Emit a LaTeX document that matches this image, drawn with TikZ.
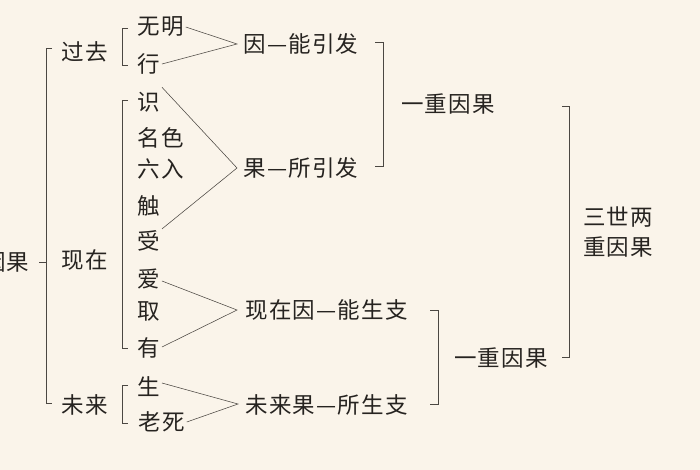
\documentclass[tikz,border=0pt]{standalone}
\usepackage{fontspec}
\newfontfamily\cjk[LetterSpace=5]{Noto Sans CJK SC}
\definecolor{bg}{RGB}{250,244,234}
\definecolor{ink}{RGB}{38,35,32}
\definecolor{rule}{RGB}{75,71,66}
\tikzset{
  lbl/.style={font=\cjk\fontsize{22.5}{27}\selectfont, text=ink, inner sep=1.5pt},
  conn/.style={draw=rule, line width=0.55pt},
  brk/.style={draw=rule, line width=0.5pt},
}
\begin{document}
\begin{tikzpicture}[x=1pt,y=-1pt]
\fill[bg] (0,0) rectangle (700,470);
\useasboundingbox (0,0) rectangle (700,470);
% left column
\node[lbl, anchor=east] (yinguo) at (31,262) {因果};
\node[lbl] (guoqu) at (85,52) {过去};
\node[lbl] (xianzai) at (85,260) {现在};
\node[lbl] (weilai) at (85,405) {未来};
% twelve links
\node[lbl] (wuming) at (161,27) {无明};
\node[lbl] (xing) at (149,64) {行};
\node[lbl] (shi) at (149,102) {识};
\node[lbl] (mingse) at (161,138) {名色};
\node[lbl] (liuru) at (161,169) {六入};
\node[lbl] (chu) at (149,206) {触};
\node[lbl] (shou) at (149,241) {受};
\node[lbl] (ai) at (149,279) {爱};
\node[lbl] (qu) at (149,311) {取};
\node[lbl] (you) at (149,348) {有};
\node[lbl] (sheng) at (149,387) {生};
\node[lbl] (laosi) at (162,422) {老死};
% apex coordinates
\coordinate (a1) at (237,44);
\coordinate (a2) at (237,168);
\coordinate (a3) at (237,310);
\coordinate (a4) at (238,404);
% group labels
\node[lbl, anchor=west] (g1) at (242,44) {因—能引发};
\node[lbl, anchor=west] (g2) at (242,168) {果—所引发};
\node[lbl, anchor=west] (g3) at (244,310) {现在因—能生支};
\node[lbl, anchor=west] (g4) at (244,405) {未来果—所生支};
\node[lbl] (c1) at (448,104) {一重因果};
\node[lbl] (c2) at (501,358) {一重因果};
\node[lbl, align=left] (c3) at (618,232) {三世两\\[3pt]重因果};
% connectors
\draw[conn] (wuming.east) -- (a1) -- (xing.east);
\draw[conn] ([yshift=3pt]shi.north east) -- (a2) -- (shou.north east);
\draw[conn] ([yshift=-2pt]ai.east) -- (a3) -- ([yshift=1pt]you.east);
\draw[conn] ([yshift=4pt]sheng.east) -- (a4) -- (laosi.east);
% left brackets
\draw[brk] (39,262) -- (46,262);
\draw[brk] (52,48) -- (46,48) -- (46,403) -- (52,403);
\draw[brk] (128,28) -- (122,28) -- (122,65) -- (128,65);
\draw[brk] (128,100) -- (122,100) -- (122,348) -- (128,348);
\draw[brk] (128,385) -- (122,385) -- (122,423) -- (128,423);
% right brackets
\draw[brk] (375,42) -- (383,42) -- (383,166) -- (375,166);
\draw[brk] (430,310) -- (438,310) -- (438,404) -- (430,404);
\draw[brk] (562,106) -- (569,106) -- (569,357) -- (562,357);
\end{tikzpicture}
\end{document}
